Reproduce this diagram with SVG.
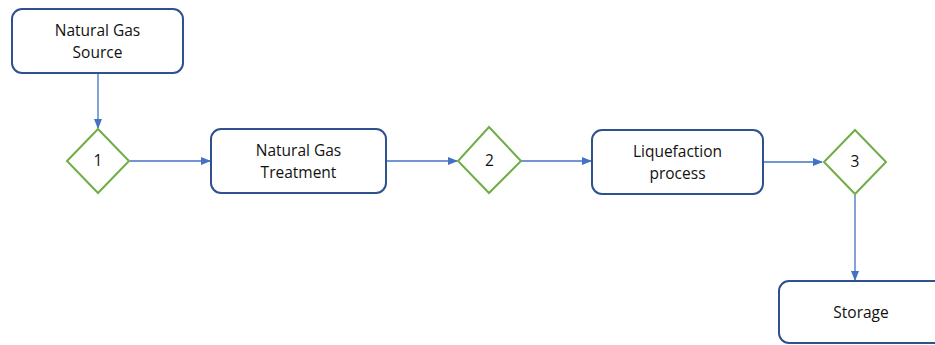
<svg xmlns="http://www.w3.org/2000/svg" width="935" height="345" viewBox="0 0 935 345">
<style>
.box{fill:#fff;stroke:#2F528F;stroke-width:2}
.dia{fill:#fff;stroke:#70AD47;stroke-width:2}
.t{font-family:"Open Sans","Liberation Sans",sans-serif;font-size:15.5px;fill:#111;text-anchor:middle}
.c{stroke:#4472C4;stroke-width:1.3;fill:none;marker-end:url(#a)}
</style>
<defs>
<marker id="a" markerWidth="10" markerHeight="8" refX="9" refY="4" orient="auto" markerUnits="userSpaceOnUse">
<path d="M0,0 L10,4 L0,8 Z" fill="#4472C4"/>
</marker>
</defs>
<rect width="935" height="345" fill="#fff"/>
<g id="connectors">
<line class="c" x1="98" y1="74" x2="98" y2="128"/>
<line class="c" x1="130" y1="161" x2="210" y2="161"/>
<line class="c" x1="387" y1="161" x2="457" y2="161"/>
<line class="c" x1="521" y1="161" x2="591" y2="161"/>
<line class="c" x1="764" y1="162" x2="822" y2="162"/>
<line class="c" x1="855" y1="195" x2="855" y2="280"/>
</g>
<g id="source">
<rect class="box" x="12" y="9" width="171" height="64" rx="10"/>
<text class="t" x="97.5" y="36">Natural Gas</text>
<text class="t" x="97.5" y="58">Source</text>
</g>
<g id="d1">
<polygon class="dia" points="98,129 129,161 98,193 67,161"/>
<text class="t" x="98" y="166">1</text>
</g>
<g id="treatment">
<rect class="box" x="211" y="129" width="175" height="64" rx="10"/>
<text class="t" x="298.5" y="156">Natural Gas</text>
<text class="t" x="298.5" y="178">Treatment</text>
</g>
<g id="d2">
<polygon class="dia" points="489,127 521,161 489,193 458,161"/>
<text class="t" x="489.5" y="166">2</text>
</g>
<g id="liquefaction">
<rect class="box" x="592" y="130" width="171" height="64" rx="10"/>
<text class="t" x="677.5" y="157">Liquefaction</text>
<text class="t" x="677.5" y="179">process</text>
</g>
<g id="d3">
<polygon class="dia" points="855,130 886,162 855,194 824,162"/>
<text class="t" x="855" y="167">3</text>
</g>
<g id="storage">
<rect class="box" x="779" y="281" width="175" height="62" rx="10"/>
<text class="t" x="861" y="318">Storage</text>
</g>
</svg>
